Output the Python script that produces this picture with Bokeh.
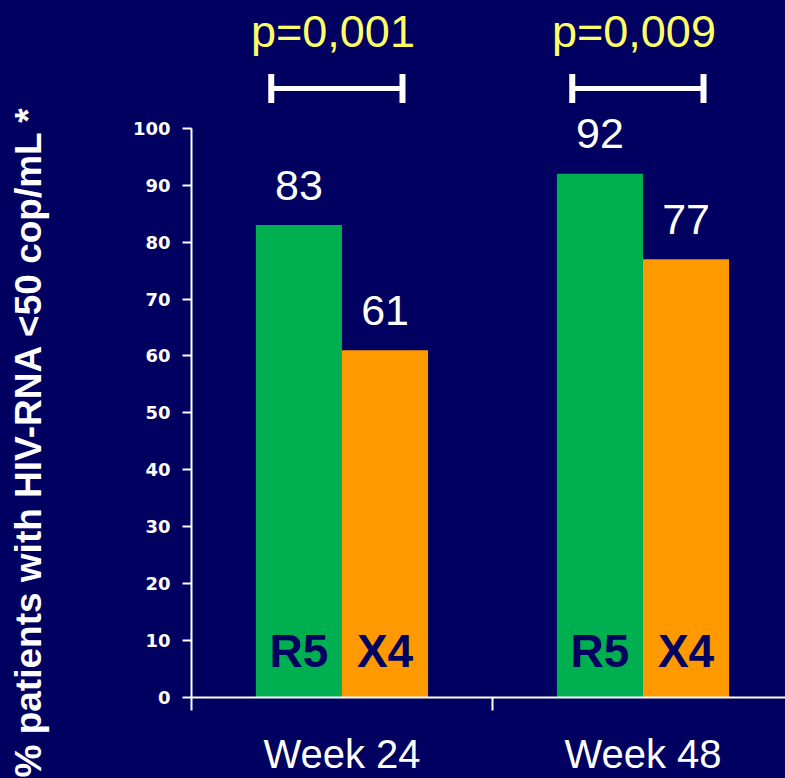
from bokeh.plotting import figure
from bokeh.models import FixedTicker, ColumnDataSource, Range1d, Title
from bokeh.core.properties import value
from bokeh.embed import file_html
from bokeh.resources import INLINE

# ---- data ----
weeks = ["Week 24", "Week 48"]
r5_values = [83, 92]
x4_values = [61, 77]
p_values = ["p=0,001", "p=0,009"]
group_names = ["R5", "X4"]
y_ticks = [0, 10, 20, 30, 40, 50, 60, 70, 80, 90, 100]
y_label = "% patients with HIV-RNA <50 cop/mL *"

# ---- style ----
BG = "#000060"
GREEN = "#00B050"
ORANGE = "#FF9900"
YELLOW = "#FFFF66"
FONT = "Liberation Sans"

W, H = 785, 778
LEFT, BOTTOM = 191, 80
frame_w = W - LEFT
frame_h = H - BOTTOM
px_per_cat = 301.0
px_per_unit = 5.70

centers = [i + 0.5 for i in range(len(weeks))]
bar_w = 0.286
r5_x = [c - bar_w / 2 for c in centers]
x4_x = [c + bar_w / 2 for c in centers]

p = figure(width=W, height=H, output_backend="svg", toolbar_location=None,
           x_range=Range1d(0, frame_w / px_per_cat),
           y_range=Range1d(0, frame_h / px_per_unit),
           min_border_left=LEFT, min_border_right=0, min_border_top=0,
           min_border_bottom=BOTTOM)
p.styles = {"background-color": BG}
p.background_fill_color = BG
p.border_fill_color = BG
p.outline_line_color = BG
p.outline_line_width = 2
p.xgrid.grid_line_color = None
p.ygrid.grid_line_color = None

src = ColumnDataSource(dict(week=weeks, r5=r5_values, x4=x4_values,
                            r5_x=r5_x, x4_x=x4_x,
                            r5_lab=[str(v) for v in r5_values],
                            x4_lab=[str(v) for v in x4_values],
                            g1=[group_names[0]] * len(weeks),
                            g2=[group_names[1]] * len(weeks)))

p.vbar(x="r5_x", top="r5", width=bar_w, bottom=0, source=src,
       fill_color=GREEN, line_color=None)
p.vbar(x="x4_x", top="x4", width=bar_w, bottom=0, source=src,
       fill_color=ORANGE, line_color=None)

# value labels
for xcol, ycol, tcol in (("r5_x", "r5", "r5_lab"), ("x4_x", "x4", "x4_lab")):
    p.text(x=xcol, y=ycol, text=tcol, source=src, text_color="white",
           text_font=value(FONT), text_font_size="43px", text_align="center",
           text_baseline="alphabetic", y_offset=-40)

# group names inside bars
for xcol, tcol in (("r5_x", "g1"), ("x4_x", "g2")):
    p.text(x=xcol, y=0, text=tcol, source=src, text_color=BG,
           text_font=value(FONT), text_font_size="46px", text_font_style="bold",
           text_align="center", text_baseline="alphabetic", y_offset=-47)

# significance brackets
BRACKET_Y = 107.0
half = 0.218
tip = 2.55
bc = [c - 0.017 for c in centers]
hx0 = [c - half for c in bc]
hx1 = [c + half for c in bc]
p.segment(x0=hx0, y0=[BRACKET_Y] * len(bc), x1=hx1, y1=[BRACKET_Y] * len(bc),
          line_color="white", line_width=5)
p.segment(x0=hx0 + hx1, y0=[BRACKET_Y - tip] * (2 * len(bc)),
          x1=hx0 + hx1, y1=[BRACKET_Y + tip] * (2 * len(bc)),
          line_color="white", line_width=6)
p.text(x=[c - 0.03 for c in centers], y=[BRACKET_Y] * len(bc), text=p_values,
       text_color=YELLOW, text_font=value(FONT), text_font_size="45px",
       text_align="center", text_baseline="alphabetic", y_offset=-57)

# y axis
ya = p.yaxis[0]
ya.ticker = FixedTicker(ticks=y_ticks)
ya.bounds = (0, 100)
ya.axis_line_color = "white"
ya.axis_line_width = 2
ya.major_tick_line_color = "white"
ya.major_tick_line_width = 2
ya.major_tick_out = 9
ya.major_tick_in = 0
ya.minor_tick_line_color = None
ya.major_label_text_color = "white"
ya.major_label_text_font = "DejaVu Sans"
ya.major_label_text_font_style = "bold"
ya.major_label_text_font_size = "18px"
ya.major_label_standoff = 12
# blank axis label used only as spacing so the title sits at the far left
ya.axis_label = " "
ya.axis_label_text_font_size = "1px"
ya.axis_label_standoff = 77

# y-axis title as a left-side title, shifted down to match the reference
p.add_layout(Title(text=y_label, align="left", offset=-80, standoff=0,
                   text_color="white", text_font=FONT, text_font_style="bold",
                   text_font_size="37px"), "left")

# x axis
xa = p.xaxis[0]
xa.ticker = FixedTicker(ticks=centers, minor_ticks=list(range(len(weeks) + 1)))
xa.major_label_overrides = {c: w for c, w in zip(centers, weeks)}
xa.axis_line_color = "white"
xa.axis_line_width = 2
xa.major_tick_line_color = None
xa.major_tick_out = 0
xa.major_tick_in = 0
xa.minor_tick_line_color = "white"
xa.minor_tick_line_width = 2
xa.minor_tick_out = 13
xa.minor_tick_in = 0
xa.major_label_text_color = "white"
xa.major_label_text_font = FONT
xa.major_label_text_font_size = "40px"
xa.major_label_standoff = 21

open("out.html", "w").write(file_html(p, INLINE))
